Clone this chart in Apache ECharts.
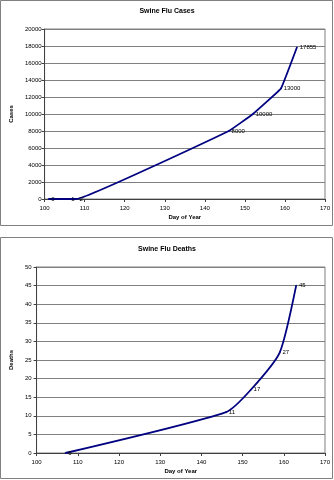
<!DOCTYPE html>
<html>
<head>
<meta charset="utf-8">
<script src="https://cdn.jsdelivr.net/npm/echarts@6/dist/echarts.min.js"></script>
<style>
  html, body { margin: 0; padding: 0; background: #ffffff; }
  #chart { width: 334px; height: 480px; }
</style>
</head>
<body>
<div id="chart"></div>
<script>
// Cumulative US swine flu counts by day of year (2009)
const caseDays   = [101, 106, 108, 146, 152, 159, 163];
const caseCounts = [0, 1, 2, 8000, 10000, 13000, 17855];

const deathDays   = [107, 146, 152, 159, 163];
const deathCounts = [0, 11, 17, 27, 45];

const dayTicks = { min: 100, max: 170, interval: 10 };
const caseTicks = { min: 0, max: 20000, interval: 2000 };
const deathTicks = { min: 0, max: 50, interval: 5 };

const FONT = '"Liberation Sans", Arial, sans-serif';
const GRID_LINE = '#808080';
const LINE_COLOR = '#000080';

function pairs(xs, ys) {
  return xs.map((x, i) => [x, ys[i]]);
}

function xAxis(gridIndex) {
  return {
    type: 'value', gridIndex,
    min: dayTicks.min, max: dayTicks.max, interval: dayTicks.interval,
    name: 'Day of Year', nameLocation: 'middle', nameGap: 15,
    nameTextStyle: { fontFamily: FONT, fontSize: 6, fontWeight: 'bold', color: '#000' },
    axisLine: { show: true, lineStyle: { color: '#404040', width: 1 } },
    axisTick: { show: true, length: 3, lineStyle: { color: '#404040' } },
    axisLabel: { fontFamily: FONT, fontSize: 6, color: '#000', margin: 6 },
    splitLine: { show: false }
  };
}

function yAxis(gridIndex, ticks, name, gap, margin) {
  return {
    type: 'value', gridIndex,
    min: ticks.min, max: ticks.max, interval: ticks.interval,
    name, nameLocation: 'middle', nameRotate: 90, nameGap: gap,
    nameTextStyle: { fontFamily: FONT, fontSize: 6, fontWeight: 'bold', color: '#000' },
    axisLine: { show: true, lineStyle: { color: '#404040', width: 1 } },
    axisTick: { show: true, length: 3, lineStyle: { color: '#404040' } },
    axisLabel: { fontFamily: FONT, fontSize: 6, color: '#000', margin,
                 formatter: v => String(v) },
    splitLine: { show: true, lineStyle: { color: GRID_LINE, width: 1 } }
  };
}

function lineSeries(idx, data, smooth) {
  return {
    type: 'line', xAxisIndex: idx, yAxisIndex: idx,
    data,
    smooth,
    symbol: 'circle', symbolSize: 1.5,
    itemStyle: { color: LINE_COLOR },
    lineStyle: { color: LINE_COLOR, width: 1.8 },
    label: {
      show: true, position: 'right', distance: 2,
      fontFamily: FONT, fontSize: 6, color: '#000',
      formatter: p => String(p.value[1])
    },
    emphasis: { disabled: true },
    animation: false
  };
}

const chart = echarts.init(document.getElementById('chart'), null, { renderer: 'canvas' });

chart.setOption({
  backgroundColor: '#ffffff',
  animation: false,
  graphic: [
    { type: 'rect', shape: { x: 0.5, y: 0.5, width: 332, height: 225 },
      style: { fill: 'none', stroke: '#808080', lineWidth: 1 }, z: 0 },
    { type: 'rect', shape: { x: 0.5, y: 237.5, width: 332, height: 241 },
      style: { fill: 'none', stroke: '#808080', lineWidth: 1 }, z: 0 }
  ],
  title: [
    { text: 'Swine Flu Cases', left: 'center', top: 3,
      textStyle: { fontFamily: FONT, fontSize: 7, fontWeight: 'bold', color: '#000' } },
    { text: 'Swine Flu Deaths', left: 'center', top: 241,
      textStyle: { fontFamily: FONT, fontSize: 7, fontWeight: 'bold', color: '#000' } }
  ],
  grid: [
    { left: 34, top: 29, width: 291, height: 170, show: true,
      borderColor: GRID_LINE, borderWidth: 1, backgroundColor: '#fff' },
    { left: 27, top: 267, width: 298, height: 186, show: true,
      borderColor: GRID_LINE, borderWidth: 1, backgroundColor: '#fff' }
  ],
  xAxis: [xAxis(0), xAxis(1)],
  yAxis: [
    yAxis(0, caseTicks, 'Cases', 26, 3),
    yAxis(1, deathTicks, 'Deaths', 18, 5)
  ],
  series: [
    lineSeries(0, pairs(caseDays, caseCounts), 0.06),
    lineSeries(1, pairs(deathDays, deathCounts), 0.2)
  ]
});
</script>
</body>
</html>
